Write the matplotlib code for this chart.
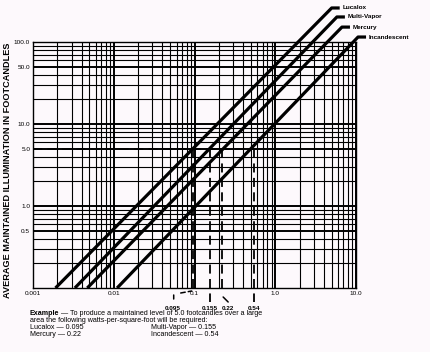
import matplotlib
matplotlib.use('Agg')
import matplotlib.pyplot as plt
import numpy as np
from matplotlib.transforms import Affine2D
from matplotlib.ticker import LogLocator, NullFormatter

# ---- data ----
series = ['Lucalox', 'Multi-Vapor', 'Mercury', 'Incandescent']
watts_start = [0.0019, 0.0033, 0.0047, 0.011]
fc_start = [0.1, 0.1, 0.1, 0.1]
watts_end = [5.0, 5.8, 6.7, 10.6]
fc_end = [260, 202, 152, 115]

example_fc = 5.0
example_watts = [0.095, 0.155, 0.22, 0.54]
example_labels = ['0.095', '0.155', '0.22', '0.54']

x_ticks = [0.001, 0.01, 0.1, 1.0, 10.0]
x_ticklabels = ['0.001', '0.01', '0.1', '1.0', '10.0']
y_ticks = [0.5, 1, 5, 10, 50, 100]
y_ticklabels = ['0.5', '1.0', '5.0', '10.0', '50.0', '100.0']

ylabel = 'AVERAGE MAINTAINED ILLUMINATION IN FOOTCANDLES'
example_head = 'Example'
example_line1 = ' \u2014 To produce a maintained level of 5.0 footcandles over a large'
example_line2 = 'area the following watts-per-square-foot will be required:'
col1 = 'Lucalox \u2014 0.095\nMercury \u2014 0.22'
col2 = 'Multi-Vapor \u2014 0.155\nIncandescent \u2014 0.54'

# ---- figure ----
plt.rcParams['font.family'] = ['Liberation Sans', 'DejaVu Sans']
W, H = 430, 352
bg = '#fdf9fc'
fig = plt.figure(figsize=(W / 100, H / 100), dpi=100, facecolor=bg)
ax = fig.add_axes([33 / W, 1 - 288 / H, (356 - 33) / W, (288 - 42) / H])
ax.set_facecolor(bg)
ax.set_xscale('log')
ax.set_yscale('log')
ax.set_xlim(0.001, 10)
ax.set_ylim(0.1, 100)

ax.xaxis.set_minor_locator(LogLocator(base=10, subs=np.arange(2, 10)))
ax.yaxis.set_minor_locator(LogLocator(base=10, subs=np.arange(2, 10)))
ax.xaxis.set_minor_formatter(NullFormatter())
ax.yaxis.set_minor_formatter(NullFormatter())
ax.grid(True, which='major', color='black', lw=1.4)
ax.grid(True, which='minor', color='black', lw=0.8)
ax.set_axisbelow(True)
for s in ax.spines.values():
    s.set_linewidth(1.0)

ax.set_xticks(x_ticks)
ax.set_xticklabels(x_ticklabels)
ax.set_yticks(y_ticks)
ax.set_yticklabels(y_ticklabels)
ax.tick_params(which='both', length=0)
ax.tick_params(axis='x', pad=2.5, labelsize=4.6)
ax.tick_params(axis='y', pad=2, labelsize=4.6)

# ---- lamp lines ----
seg = 10 ** (8 / 80.75)
for name, w0, f0, w1, f1 in zip(series, watts_start, fc_start, watts_end, fc_end):
    ax.plot([w0, w1, w1 * seg], [f0, f1, f1], color='black', lw=2.3,
            solid_capstyle='butt', clip_on=False, zorder=5)
    ax.annotate(name, xy=(w1 * seg, f1), xytext=(3, 0), textcoords='offset pixels',
                fontsize=4.6, fontweight='bold', va='center', ha='left',
                annotation_clip=False)

# ---- example dashed lines ----
dash = dict(color='black', lw=1.3, dashes=(5, 3), clip_on=False, zorder=4)
ax.plot([x_ticks[0], max(example_watts)], [example_fc, example_fc], **dash)
yfrac = np.log10(example_fc / 0.1) / 3.0
xt = ax.get_xaxis_transform()
ax_h = 288 - 42


def off(dx, dy):
    return xt + Affine2D().translate(dx, dy)


w095, w155, w22, w54 = example_watts
bottoms = [-2, -14, -4, -14]
for w, b in zip(example_watts, bottoms):
    ax.plot([w, w], [yfrac, b / ax_h], transform=xt, **dash)

seg_kw = dict(arrowstyle='-', lw=1.1, shrinkA=0, shrinkB=0)
ax.annotate('', xy=(w095, 0), xycoords=off(-1, -3), xytext=(w095, 0),
            textcoords=off(-12, -5),
            arrowprops=dict(seg_kw, linestyle=(0, (3, 2))), annotation_clip=False)
ax.annotate('', xy=(w095, 0), xycoords=off(-19, -7), xytext=(w095, 0),
            textcoords=off(-19, -11), arrowprops=seg_kw, annotation_clip=False)
ax.annotate('', xy=(w22, 0), xycoords=off(1, -9), xytext=(w22, 0),
            textcoords=off(6, -14), arrowprops=seg_kw, annotation_clip=False)

label_dx = [-20, 0, 6, 0]
for w, lab, dx in zip(example_watts, example_labels, label_dx):
    ax.text(w, 0, lab, transform=off(dx, -20), ha='center', va='center',
            fontsize=4.6, fontweight='bold', clip_on=False)

# ---- y label ----
fig.text(8 / W, 1 - 170 / H, ylabel, rotation=90, ha='center', va='center',
         fontsize=6.6, fontweight='bold')

# ---- example text ----
fs = 5.1
t = fig.text(30 / W, 1 - 315 / H, example_head, fontsize=fs, fontweight='bold',
             va='baseline', ha='left')
ax.annotate(example_line1, xy=(1, 0), xycoords=t, va='bottom', ha='left',
            fontsize=fs, annotation_clip=False)
fig.text(30 / W, 1 - 321.5 / H, example_line2, fontsize=fs, va='baseline', ha='left')
fig.text(30 / W, 1 - 336 / H, col1, fontsize=fs, va='baseline', ha='left',
         linespacing=1.05)
fig.text(151 / W, 1 - 336 / H, col2, fontsize=fs, va='baseline', ha='left',
         linespacing=1.05)

fig.savefig('out.png', dpi=100, facecolor=bg)
